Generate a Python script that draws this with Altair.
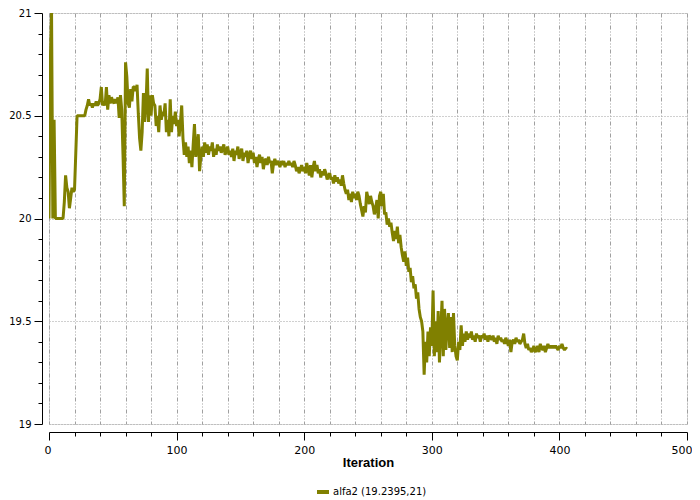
import altair as alt
import pandas as pd

# Values, iteration 0..406
V000 = [20.0, 20.75, 21.0, 20.0, 20.48, 20.0, 20.0, 20.0, 20.0, 20.0,
        20.0, 20.0, 20.08, 20.21, 20.15, 20.13, 20.05, 20.1, 20.15, 20.13,
        20.14, 20.32, 20.5, 20.5, 20.5, 20.5, 20.5, 20.5, 20.5, 20.53,
        20.55, 20.58, 20.55, 20.56, 20.54, 20.56, 20.55, 20.57, 20.55, 20.56,
        20.58, 20.64, 20.55, 20.57, 20.55, 20.64, 20.53, 20.6, 20.56, 20.59]
V050 = [20.57, 20.56, 20.58, 20.56, 20.59, 20.49, 20.6, 20.53, 20.31, 20.06,
        20.76, 20.69, 20.56, 20.54, 20.63, 20.57, 20.64, 20.64, 20.62, 20.65,
        20.51, 20.39, 20.33, 20.42, 20.61, 20.47, 20.55, 20.73, 20.47, 20.6,
        20.5, 20.6, 20.56, 20.55, 20.45, 20.5, 20.42, 20.55, 20.48, 20.52,
        20.5, 20.56, 20.42, 20.48, 20.4, 20.58, 20.42, 20.5, 20.46, 20.52]
V100 = [20.45, 20.48, 20.4, 20.47, 20.55, 20.39, 20.31, 20.37, 20.3, 20.35,
        20.27, 20.33, 20.25, 20.36, 20.46, 20.3, 20.34, 20.41, 20.23, 20.3,
        20.35, 20.3, 20.37, 20.32, 20.36, 20.31, 20.35, 20.33, 20.37, 20.3,
        20.34, 20.31, 20.36, 20.33, 20.35, 20.32, 20.34, 20.36, 20.31, 20.33,
        20.35, 20.31, 20.33, 20.3, 20.34, 20.28, 20.33, 20.31, 20.35, 20.29]
V150 = [20.32, 20.34, 20.28, 20.32, 20.3, 20.33, 20.27, 20.31, 20.33, 20.29,
        20.32, 20.27, 20.3, 20.25, 20.29, 20.31, 20.27, 20.3, 20.24, 20.28,
        20.29, 20.26, 20.3, 20.27, 20.28, 20.22, 20.27, 20.29, 20.26, 20.28,
        20.27, 20.25, 20.28, 20.26, 20.28, 20.25, 20.27, 20.26, 20.28, 20.26,
        20.27, 20.25, 20.28, 20.26, 20.23, 20.25, 20.22, 20.24, 20.26, 20.23]
V200 = [20.25, 20.22, 20.27, 20.24, 20.21, 20.26, 20.2, 20.25, 20.28, 20.23,
        20.26, 20.22, 20.24, 20.2, 20.23, 20.21, 20.24, 20.22, 20.19, 20.21,
        20.22, 20.19, 20.2, 20.17, 20.21, 20.18, 20.2, 20.17, 20.19, 20.16,
        20.21, 20.17, 20.14, 20.12, 20.14, 20.09, 20.12, 20.08, 20.13, 20.1,
        20.12, 20.09, 20.13, 20.11, 20.07, 20.04, 20.01, 20.06, 20.03, 20.13]
V250 = [20.1, 20.07, 20.11, 20.08, 20.06, 20.02, 20.05, 20.09, 20.0, 20.11,
        20.13, 20.06, 20.12, 20.02, 20.03, 19.97, 20.0, 19.96, 19.98, 19.93,
        19.89, 19.94, 19.9, 19.96, 19.88, 19.92, 19.86, 19.82, 19.79, 19.84,
        19.77, 19.81, 19.74, 19.76, 19.69, 19.72, 19.66, 19.68, 19.61, 19.64,
        19.56, 19.52, 19.5, 19.45, 19.2395, 19.4, 19.3, 19.45, 19.33, 19.47]
V300 = [19.38, 19.65, 19.33, 19.5, 19.35, 19.55, 19.3, 19.45, 19.6, 19.33,
        19.56, 19.36, 19.48, 19.54, 19.37, 19.52, 19.35, 19.54, 19.38, 19.33,
        19.31, 19.4, 19.36, 19.48, 19.38, 19.44, 19.4, 19.45, 19.41, 19.44,
        19.42, 19.45, 19.41, 19.43, 19.4, 19.44, 19.42, 19.43, 19.4, 19.43,
        19.42, 19.44, 19.41, 19.43, 19.4, 19.43, 19.42, 19.41, 19.43, 19.4]
V350 = [19.42, 19.39, 19.43, 19.41, 19.42, 19.4, 19.41, 19.39, 19.42, 19.4,
        19.38, 19.41, 19.35, 19.4, 19.41, 19.39, 19.42, 19.4, 19.41, 19.39,
        19.4, 19.41, 19.44, 19.39, 19.37, 19.39, 19.36, 19.37, 19.35, 19.36,
        19.38, 19.35, 19.36, 19.38, 19.35, 19.39, 19.37, 19.36, 19.38, 19.35,
        19.37, 19.39, 19.37, 19.38, 19.37, 19.38, 19.37, 19.38, 19.37, 19.36]
V400 = [19.38, 19.37, 19.39, 19.37, 19.36, 19.37, 19.365]

SERIES = "alfa2 (19.2395,21)"
X_TICKS = list(range(0, 501, 20))
Y_TICKS = [19.0, 19.1, 19.2, 19.3, 19.4, 19.5, 19.6, 19.7, 19.8, 19.9,
           20.0, 20.1, 20.2, 20.3, 20.4, 20.5, 20.6, 20.7, 20.8, 20.9, 21.0]

values = V000 + V050 + V100 + V150 + V200 + V250 + V300 + V350 + V400
df = pd.DataFrame({
    "Iteration": list(range(len(values))),
    "value": values,
    "series": [SERIES] * len(values),
})

FONT = "DejaVu Sans"
y_major = "abs(datum.value*2 - round(datum.value*2)) < 0.001"
x_major = "datum.value % 100 == 0"

chart = alt.Chart(df).mark_line(strokeWidth=3, strokeJoin="bevel", clip=True).encode(
    x=alt.X("Iteration:Q",
            scale=alt.Scale(domain=[0, 500], nice=False, zero=False),
            axis=alt.Axis(
                values=X_TICKS, offset=8,
                tickSize={"condition": {"test": x_major, "value": 8}, "value": 4},
                labelExpr=f"{x_major} ? datum.label : ''",
                labelPadding=4, labelFontSize=11, labelFont=FONT, labelColor="#000",
                labelOverlap=False, labelFlush=True, labelFlushOffset=5,
                title="Iteration", titleFont="Liberation Sans", titleFontSize=13,
                titleFontWeight="bold", titleColor="#000", titlePadding=1,
                domainColor="#000", tickColor="#000",
                grid=True, gridColor="#a0a0a0", gridDash=[4, 2, 1, 2, 1, 2],
                gridWidth=1,
            )),
    y=alt.Y("value:Q",
            scale=alt.Scale(domain=[19, 21], nice=False, zero=False),
            axis=alt.Axis(
                values=Y_TICKS, offset=7,
                tickSize={"condition": {"test": y_major, "value": 8}, "value": 4},
                labelExpr=f"{y_major} ? '' + datum.value : ''",
                labelPadding=3, labelFontSize=10, labelFont=FONT, labelColor="#000",
                labelOverlap=False, labelFlush=False,
                title="",
                domainColor="#000", tickColor="#000",
                grid=True, gridColor="#a0a0a0", gridDash=[1, 2], gridWidth=1,
                gridOpacity={"condition": {"test": y_major, "value": 1}, "value": 0},
            )),
    color=alt.Color("series:N",
                    scale=alt.Scale(domain=[SERIES], range=["#808000"]),
                    legend=alt.Legend(
                        title="", orient="none", legendX=266, legendY=471,
                        symbolType="stroke", symbolStrokeWidth=4, symbolSize=144,
                        labelFont=FONT, labelFontSize=10, labelColor="#000",
                        padding=0, offset=0, labelOffset=2,
                    )),
).properties(
    width=638, height=411,
    autosize=alt.AutoSizeParams(type="none"),
    padding={"left": 41, "top": 5, "right": 5, "bottom": 75},
).configure_view(stroke="transparent").configure(background="white")

chart.save("out.html", embed_options={"renderer": "svg", "actions": False})
